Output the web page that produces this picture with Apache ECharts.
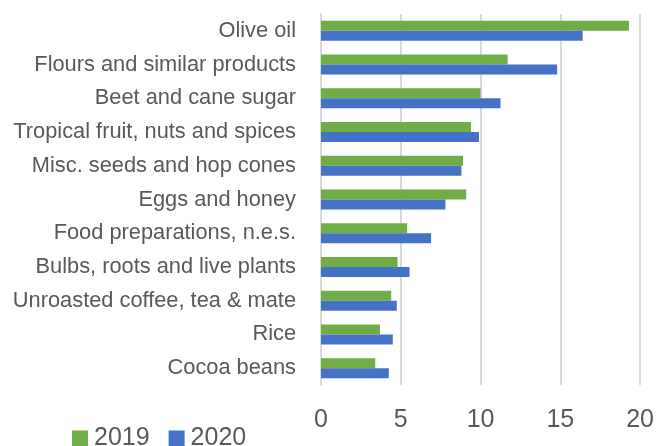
<!DOCTYPE html>
<html>
<head>
<meta charset="utf-8">
<script src="https://cdn.jsdelivr.net/npm/echarts@6/dist/echarts.min.js"></script>
<style>
html,body{margin:0;padding:0;background:#fff;}
#chart{width:657px;height:446px;}
</style>
</head>
<body>
<div id="chart"></div>
<script>
const categories = [
  "Olive oil",
  "Flours and similar products",
  "Beet and cane sugar",
  "Tropical fruit, nuts and spices",
  "Misc. seeds and hop cones",
  "Eggs and honey",
  "Food preparations, n.e.s.",
  "Bulbs, roots and live plants",
  "Unroasted coffee, tea & mate",
  "Rice",
  "Cocoa beans"
];
const values2019 = [19.3, 11.7, 10.0, 9.4, 8.9, 9.1, 5.4, 4.8, 4.4, 3.7, 3.4];
const values2020 = [16.4, 14.8, 11.25, 9.9, 8.8, 7.8, 6.9, 5.55, 4.75, 4.5, 4.25];
const seriesNames = ["2019", "2020"];
const xTicks = [0, 5, 10, 15, 20];

const chart = echarts.init(document.getElementById('chart'), null, {renderer: 'canvas'});
const font = "'Liberation Sans', Arial, sans-serif";
chart.setOption({
  animation: false,
  backgroundColor: '#ffffff',
  grid: {left: 321, right: 16, top: 14, bottom: 61, containLabel: false},
  legend: {
    data: seriesNames,
    left: 72,
    top: 426,
    padding: 0,
    itemWidth: 16,
    itemHeight: 16,
    itemGap: 19,
    icon: 'rect',
    textStyle: {fontFamily: font, fontSize: 25, color: '#595959', padding: [0,0,0,1]}
  },
  xAxis: {
    type: 'value',
    min: xTicks[0],
    max: xTicks[xTicks.length - 1],
    interval: 5,
    axisLine: {show: false},
    axisTick: {show: false},
    splitLine: {show: true, lineStyle: {color: '#d9d9d9', width: 2}},
    axisLabel: {fontFamily: font, fontSize: 25, color: '#595959', margin: 23}
  },
  yAxis: {
    type: 'category',
    data: categories,
    inverse: true,
    axisLine: {show: true, lineStyle: {color: '#d9d9d9', width: 2}},
    axisTick: {show: false},
    axisLabel: {fontFamily: font, fontSize: 21.8, color: '#595959', margin: 25}
  },
  series: [
    {
      name: seriesNames[0], type: 'bar', data: values2019,
      barWidth: 10, barGap: '0%',
      itemStyle: {color: '#70AD47'}
    },
    {
      name: seriesNames[1], type: 'bar', data: values2020,
      barWidth: 10, barGap: '0%',
      itemStyle: {color: '#4472C4'}
    }
  ]
});
</script>
</body>
</html>
